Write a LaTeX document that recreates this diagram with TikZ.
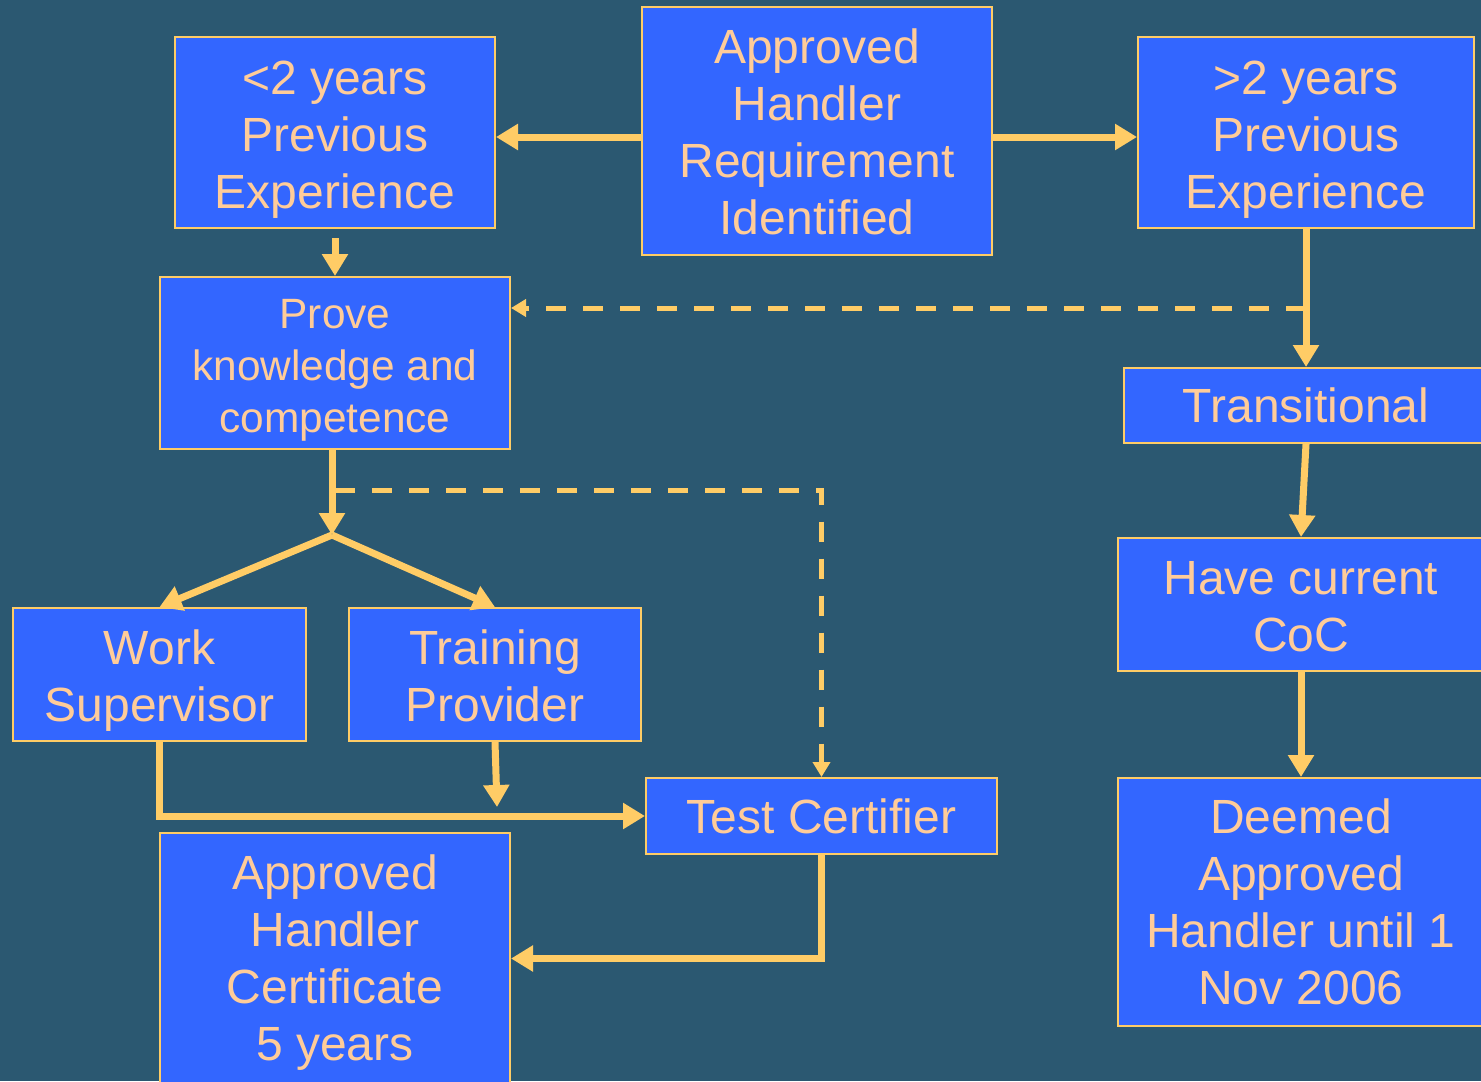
\documentclass[tikz,border=0pt]{standalone}
\usepackage{fontspec}
\setmainfont{Liberation Sans}
\usetikzlibrary{arrows.meta,calc}
\definecolor{bg}{HTML}{2B5871}
\definecolor{boxfill}{HTML}{3366FF}
\definecolor{boxline}{HTML}{FFCC66}
\definecolor{txt}{HTML}{FFCC99}
\definecolor{arrc}{HTML}{FFCC66}
\newcommand{\lowtext}[2]{\raisebox{-#1}[\height][\depth]{\begin{tabular}{@{}c@{}}#2\end{tabular}}}
\begin{document}
\begin{tikzpicture}[x=0.5pt,y=-0.5pt,
  box/.style={draw=boxline,line width=1pt,fill=boxfill,text=txt,align=center,inner sep=0pt,
    font=\fontsize{24}{28.5}\selectfont},
  boxs/.style={box,font=\fontsize{21.2}{26}\selectfont},
  arr/.style={draw=arrc,line width=3.5pt,-{Triangle[length=11pt,width=12.5pt]}},
  darr/.style={draw=arrc,line width=2.5pt,dash pattern=on 10pt off 8.5pt,-{Triangle[length=7.5pt,width=8.5pt]}}]
\useasboundingbox (0,0) rectangle (1481,1081);
\fill[bg] (0,0) rectangle (1481,1081);
% nodes
\node[box,minimum width=175pt,minimum height=124pt] (req) at (817,131) {\lowtext{3.5pt}{Approved\\Handler\\Requirement\\Identified}};
\node[box,minimum width=160pt,minimum height=95.5pt] (lt2) at (335,132.5) {\lowtext{4pt}{<2 years\\Previous\\Experience}};
\node[box,minimum width=168pt,minimum height=95.5pt] (gt2) at (1306,132.5) {\lowtext{4pt}{>2 years\\Previous\\Experience}};
\node[boxs,minimum width=175pt,minimum height=86pt] (prove) at (335,363) {\lowtext{3.5pt}{Prove\\knowledge and\\competence}};
\node[box,minimum width=182pt,minimum height=37.5pt] (trans) at (1306,405.5) {Transitional};
\node[box,minimum width=183pt,minimum height=66.5pt] (coc) at (1301,604.5) {\lowtext{3.5pt}{Have current\\CoC}};
\node[box,minimum width=183pt,minimum height=124pt] (deemed) at (1301,902) {Deemed\\Approved\\Handler until 1\\Nov 2006};
\node[box,minimum width=146.5pt,minimum height=66.5pt] (work) at (159.5,674.5) {\lowtext{3.5pt}{Work\\Supervisor}};
\node[box,minimum width=146pt,minimum height=66.5pt] (train) at (495,674.5) {\lowtext{3.5pt}{Training\\Provider}};
\node[box,minimum width=175.5pt,minimum height=38pt] (test) at (821.5,816) {Test Certifier};
\node[box,minimum width=175pt,minimum height=125.5pt] (cert) at (335,958.5) {\lowtext{2.5pt}{Approved\\Handler\\Certificate\\5 years}};
% helper coordinates
\coordinate (yA) at (0,137);
\coordinate (yD1) at (0,308);
\coordinate (yD2) at (0,490);
\coordinate (split) at (332,535);
\coordinate (tp) at (497,807);
% connectors
\draw[arr] (req.west |- yA) -- (lt2.east |- yA);
\draw[arr] (req.east |- yA) -- (gt2.west |- yA);
\draw[arr] ([yshift=-4.5pt]lt2.south) -- (prove.north);
\draw[arr] (gt2.south) -- (trans.north);
\draw[darr] (gt2.south |- yD1) -- (prove.east |- yD1);
\draw[arr] (trans.south) -- (coc.north);
\draw[arr] (coc.south) -- (deemed.north);
\draw[darr] (prove.south |- yD2) -| (test.north);
\draw[arr] (prove.south -| split) -- (split);
\draw[arr] (split) -- (work.north);
\draw[arr] (split) -- (train.north);
\draw[arr] (work.south) |- (test.west);
\draw[arr] (train.south) -- (tp);
\draw[arr] (test.south) |- (cert.east);
\end{tikzpicture}
\end{document}
